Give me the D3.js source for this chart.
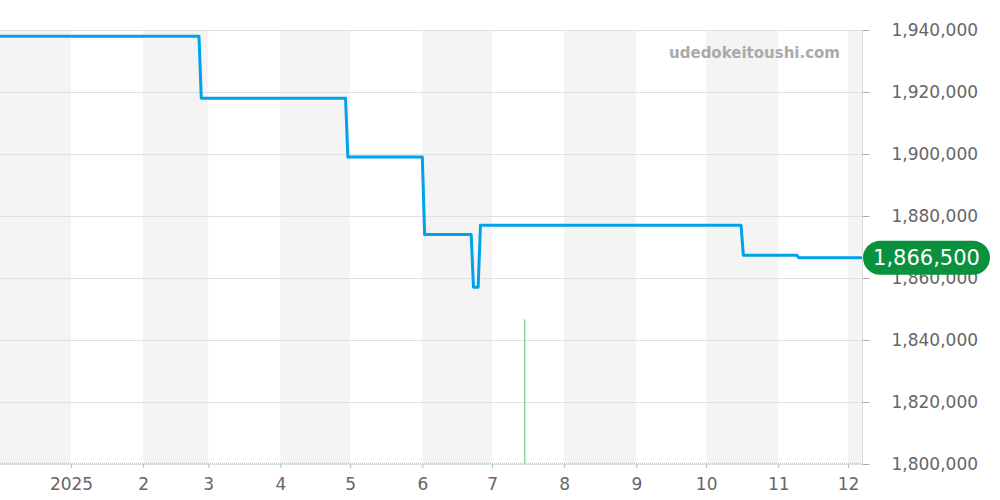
<!DOCTYPE html>
<html>
<head>
<meta charset="utf-8">
<script src="https://cdn.jsdelivr.net/npm/d3@7"></script>
<style>
  body { margin: 0; background: #fff; }
  svg { display: block; font-family: "DejaVu Sans", sans-serif; }
</style>
</head>
<body>
<div id="chart"></div>
<script>
// price series (step changes)
const priceDates = ["2024-12-01","2025-02-25","2025-02-26","2025-04-29","2025-04-30","2025-06-01","2025-06-02",
  "2025-06-22","2025-06-23","2025-06-25","2025-06-26","2025-10-16","2025-10-17","2025-11-09","2025-11-10","2025-12-07"];
const priceValues = [1938000,1938000,1918000,1918000,1899000,1899000,1874000,
  1874000,1857000,1857000,1877000,1877000,1867300,1867300,1866500,1866500];

// volume bars
const volumeDates = ["2025-07-15"];
const volumeValues = [1];

const yTicks = [1800000,1820000,1840000,1860000,1880000,1900000,1920000,1940000];
const lastPrice = 1866500;
const watermark = "udedokeitoushi.com";

let width = 1000, height = 500;
let plotLeft = -1.1, plotRight = 862, plotTop = 30, plotBottom = 464;
let font = "DejaVu Sans, sans-serif";

const parse = d3.timeParse("%Y-%m-%d");
const prices = priceDates.map((d,i) => ({date: parse(d), value: priceValues[i]}));
const volumes = volumeDates.map((d,i) => ({date: parse(d), value: volumeValues[i]}));

let svg = d3.select("#chart").append("svg").attr("width", width).attr("height", height);

let x = d3.scaleTime()
  .domain([parse("2024-12-01"), parse("2025-12-07")])
  .range([plotLeft, plotRight]);

let y = d3.scaleLinear()
  .domain([1800000, 1940000])
  .range([plotBottom, plotTop]);

let yVol = d3.scaleLinear().domain([0, 3]).range([plotBottom, plotTop]);

// alternating month bands
let months = d3.timeMonth.range(parse("2024-12-01"), parse("2026-01-01"));
svg.append("g").selectAll("rect")
  .data(months.filter((m, i) => i % 2 == 0))
  .join("rect")
  .attr("x", d => Math.max(0, x(d)))
  .attr("y", plotTop)
  .attr("width", d => Math.min(x(d3.timeMonth.offset(d, 1)), plotRight) - Math.max(0, x(d)))
  .attr("height", plotBottom - plotTop)
  .attr("fill", "#f4f4f4");

// horizontal grid
svg.append("g").selectAll("line")
  .data(yTicks)
  .join("line")
  .attr("x1", 0).attr("x2", plotRight)
  .attr("y1", d => y(d) + 0.5).attr("y2", d => y(d) + 0.5)
  .attr("stroke", "#e0e0e0").attr("stroke-width", 1);

// right axis
let yAxis = svg.append("g")
  .attr("transform", `translate(${plotRight + 0.5},0)`)
  .call(d3.axisRight(y).tickValues(yTicks).tickSize(7).tickPadding(22).tickFormat(d3.format(",")));
yAxis.attr("font-family", font);
yAxis.select(".domain").attr("stroke", "#d8d8d8").attr("d", `M0,${plotTop}V${plotBottom}`);
yAxis.selectAll(".tick line").attr("stroke", "#aaa");
yAxis.selectAll(".tick text").attr("fill", "#666").style("font-size", "17px")
  .attr("dy", "0.35em");

// bottom axis
let xAxis = svg.append("g")
  .attr("transform", `translate(0,${plotBottom})`)
  .call(d3.axisBottom(x)
    .tickValues(d3.timeMonth.range(parse("2025-01-01"), parse("2025-12-02")))
    .tickSize(4).tickPadding(10)
    .tickFormat(d => d.getMonth() == 0 ? d3.timeFormat("%Y")(d) : String(d.getMonth() + 1)));
xAxis.attr("font-family", font);
xAxis.select(".domain").remove();
xAxis.selectAll(".tick line").attr("stroke", "#bbb");
xAxis.selectAll(".tick text").attr("fill", "#666").style("font-size", "17px");

// volume baseline
svg.append("line")
  .attr("x1", 0).attr("x2", plotRight)
  .attr("y1", yVol(0) - 0.5).attr("y2", yVol(0) - 0.5)
  .attr("stroke", "#a5dcb0").attr("stroke-width", 1.5)
  .attr("stroke-dasharray", "1,1");

// volume bars
svg.append("g").selectAll("line")
  .data(volumes)
  .join("line")
  .attr("x1", d => x(d.date)).attr("x2", d => x(d.date))
  .attr("y1", d => yVol(0)).attr("y2", d => yVol(d.value))
  .attr("stroke", "#86d996").attr("stroke-width", 1.5);

// watermark
svg.append("text")
  .attr("x", 840).attr("y", 58)
  .attr("text-anchor", "end")
  .attr("fill", "#aaa")
  .style("font-size", "15px").style("font-weight", "bold")
  .text(watermark);

// price line
let line = d3.line().x(d => x(d.date)).y(d => y(d.value));
svg.append("path")
  .datum(prices)
  .attr("d", line)
  .attr("fill", "none")
  .attr("stroke", "#00a2e8")
  .attr("stroke-width", 3)
  .attr("stroke-linejoin", "round");

// last price badge
let badge = svg.append("g").attr("transform", `translate(${plotRight + 1},${y(lastPrice)})`);
badge.append("rect")
  .attr("x", 0).attr("y", -17)
  .attr("width", 127).attr("height", 34)
  .attr("rx", 17).attr("ry", 17)
  .attr("fill", "#0a913d");
badge.append("text")
  .attr("x", 63.5).attr("y", 0).attr("dy", "0.36em")
  .attr("text-anchor", "middle")
  .attr("fill", "#fff")
  .style("font-size", "21px")
  .text(d3.format(",")(lastPrice));
</script>
</body>
</html>
